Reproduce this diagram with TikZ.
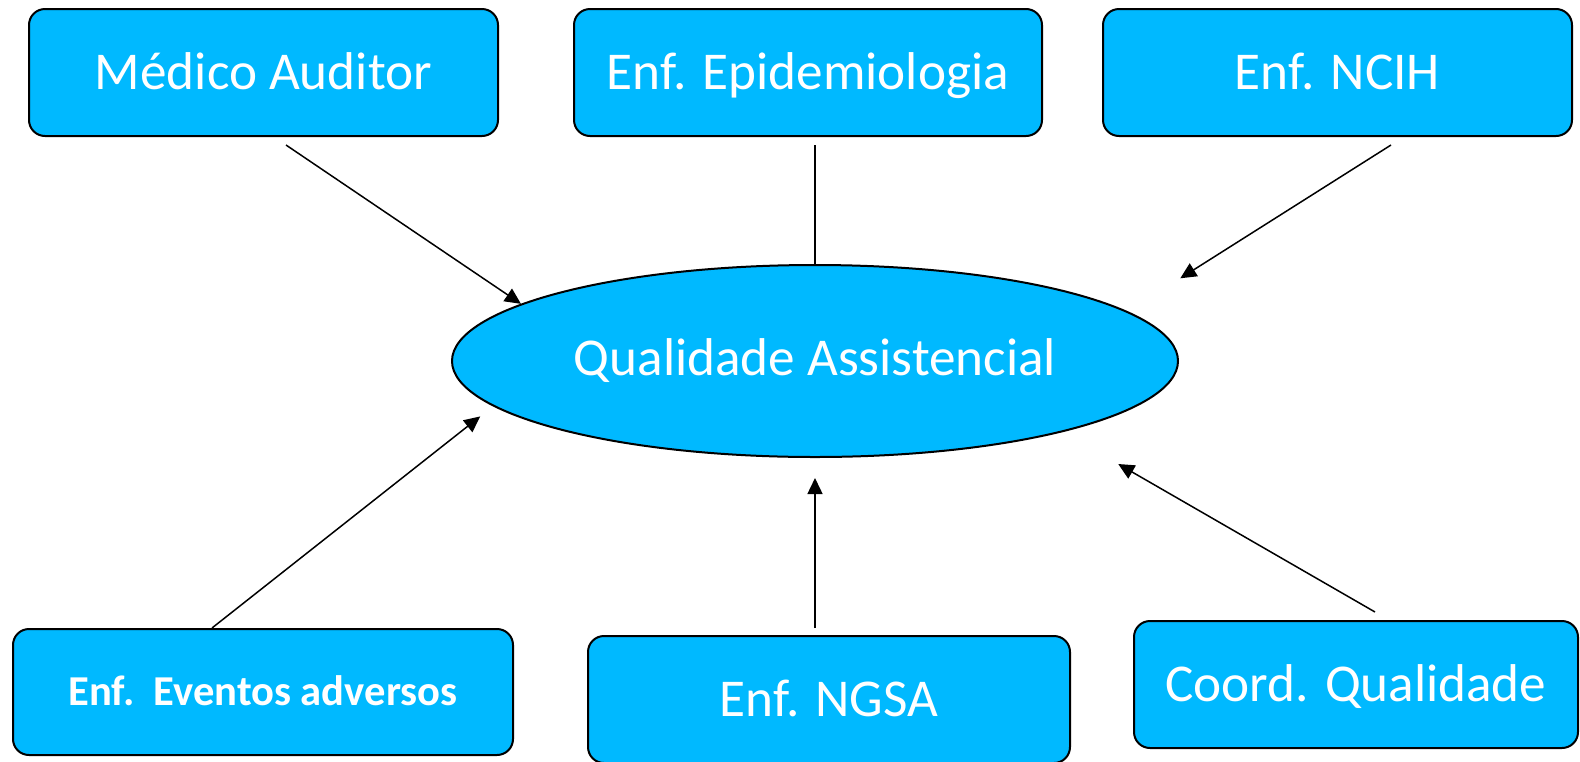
\documentclass[tikz,border=0pt]{standalone}
\usepackage{fontspec}
\setmainfont{Carlito}
\usetikzlibrary{arrows.meta,positioning,shapes.geometric}
\definecolor{boxcolor}{RGB}{0,185,255}

\begin{document}
\begin{tikzpicture}[x=0.5pt, y=-0.5pt, >={Triangle[length=8pt,width=7.5pt]},
    every node/.style={text=white, fill=boxcolor, draw=black, line width=1pt},
    role/.style={rounded corners=8pt, minimum width=234.5pt, minimum height=63.5pt,
      font=\fontsize{26.6}{30}\selectfont, text depth=1.5pt},
    link/.style={line width=0.75pt}]
    \useasboundingbox (0,0) rectangle (1580,761);

    \node[ellipse, minimum width=363pt, minimum height=96pt, inner sep=0pt,
      font=\fontsize{26.6}{30}\selectfont] (qa) at (815,361) {Qualidade Assistencial};

    % top row
    \node[role] (auditor) at (263.5,72.5) {Médico Auditor};
    \node[role, minimum width=234pt] (epi) at (808,72.5) {Enf. Epidemiologia};
    \node[role] (ncih) at (1337.5,72.5) {Enf. NCIH};

    % bottom row
    \node[role, minimum width=250pt, minimum height=63pt,
      font=\bfseries\fontsize{21.3}{26}\selectfont] (eventos) at (263,692) {Enf.\ \ Eventos adversos};
    \node[role, minimum width=241pt] (ngsa) at (829,699.5) {Enf. NGSA};
    \node[role, minimum width=222pt] (coord) at (1356,684.5) {Coord. Qualidade};

    \draw[->, link] ([xshift=11.25pt,yshift=-4pt]auditor.south) -- (qa.169);
    \draw[link] ([yshift=-4pt]epi.south -| qa.north) -- (qa.north);
    \draw[->, link, shorten >=31pt] ([xshift=26.75pt,yshift=-4pt]ncih.south) -- (qa.9);
    \draw[->, link, shorten >=8.2pt] ([xshift=-25.5pt]eventos.north) -- (qa.188);
    \draw[->, link, shorten >=10pt] ([yshift=3.5pt]ngsa.north -| qa.south) -- (qa.south);
    \draw[->, link, shorten >=32pt] ([xshift=9.5pt,yshift=4pt]coord.north) -- (qa.344);
\end{tikzpicture}
\end{document}
